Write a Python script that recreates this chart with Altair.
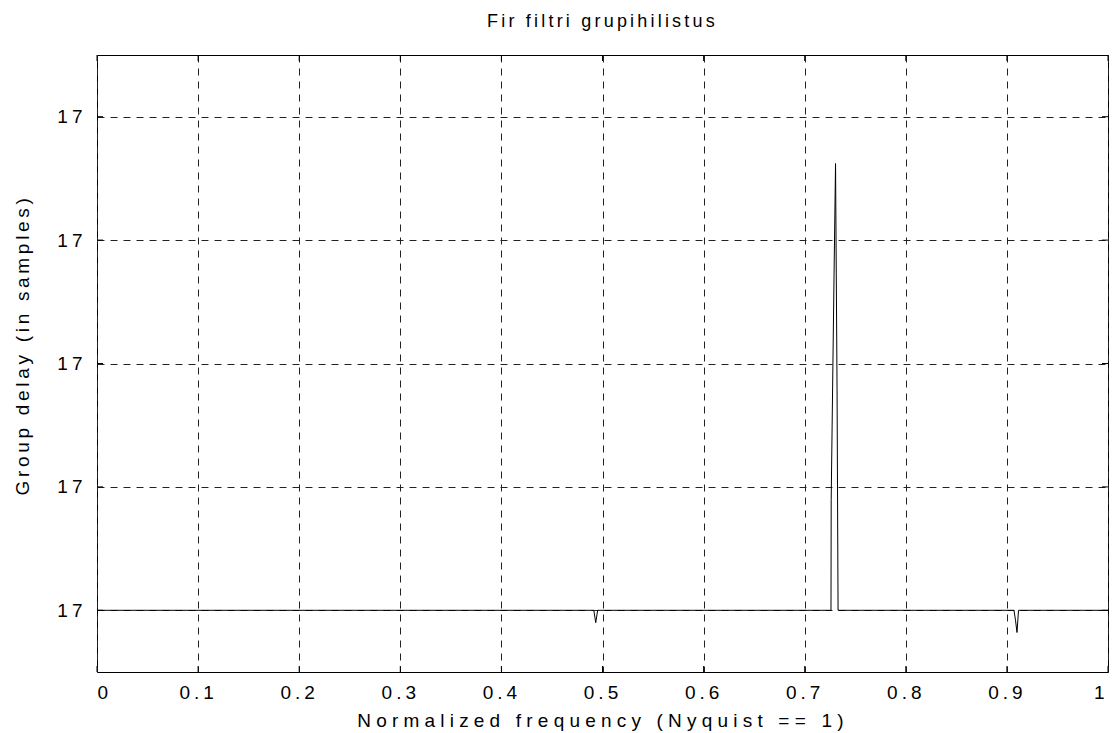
import altair as alt
import pandas as pd

# Normalized frequency (Nyquist == 1) and group-delay deviation from 17 samples
# (deviation expressed in tick units; every tick is labelled "17")
freq = [0.0, 0.4914, 0.4933, 0.4952, 0.7260, 0.7262, 0.7290, 0.7305, 0.7320, 0.7330,
        0.9070, 0.9085, 0.9100, 0.9115, 1.0]
delay_dev = [0.0, 0.0, -0.10, 0.0, 0.0, 0.90, 2.70, 3.62, 1.80, 0.0,
             0.0, -0.08, -0.18, 0.0, 0.0]

x_ticks = [0, 0.1, 0.2, 0.3, 0.4, 0.5, 0.6, 0.7, 0.8, 0.9, 1.0]
y_ticks = [0, 1, 2, 3, 4]
y_tick_label = "17"

df = pd.DataFrame({"f": freq, "d": delay_dev})
xt = pd.DataFrame({"t": x_ticks})
yt = pd.DataFrame({"t": y_ticks})

W, H = 1011, 617
FONT = "Liberation Sans"
FS = 19

xscale = alt.Scale(domain=[0, 1], nice=False, zero=False)
yscale = alt.Scale(domain=[-0.5, 4.5], nice=False, zero=False)

line = alt.Chart(df).mark_line(color="black", strokeWidth=1, interpolate="linear").encode(
    x=alt.X("f:Q", scale=xscale,
            axis=alt.Axis(values=x_ticks, title="Normalized frequency  (Nyquist == 1)",
                          labelExpr="datum.value == 0 ? '0' : datum.value == 1 ? '1' : format(datum.value, '.1f')",
                          grid=True, gridDash=[7, 6], gridColor="#222222", gridWidth=1,
                          ticks=False, domain=False,
                          labelPadding=11, labelBaseline="top",
                          titleX=W / 2, titleY=54, titleAlign="center", titleBaseline="alphabetic",
                          labelFont=FONT, labelFontSize=FS, labelColor="black",
                          titleFont=FONT, titleFontSize=FS, titleFontWeight="normal", titleColor="black")),
    y=alt.Y("d:Q", scale=yscale,
            axis=alt.Axis(values=y_ticks, title="Group delay (in samples)",
                          labelExpr="'" + y_tick_label + "'",
                          grid=True, gridDash=[7, 6], gridColor="#222222", gridWidth=1,
                          ticks=False, domain=False,
                          labelPadding=11, labelBaseline="middle",
                          titleX=-69, titleY=440, titleAngle=270, titleAlign="left",
                          titleBaseline="alphabetic",
                          labelFont=FONT, labelFontSize=FS, labelColor="black",
                          titleFont=FONT, titleFontSize=FS, titleFontWeight="normal", titleColor="black")),
)

# inward tick marks on all four sides
xb = alt.Chart(xt).mark_rule(color="black", strokeWidth=1).encode(
    x=alt.X("t:Q", scale=xscale), y=alt.value(H), y2=alt.value(H - 6))
xtp = alt.Chart(xt).mark_rule(color="black", strokeWidth=1).encode(
    x=alt.X("t:Q", scale=xscale), y=alt.value(0), y2=alt.value(6))
yl = alt.Chart(yt).mark_rule(color="black", strokeWidth=1).encode(
    y=alt.Y("t:Q", scale=yscale), x=alt.value(0), x2=alt.value(6))
yr = alt.Chart(yt).mark_rule(color="black", strokeWidth=1).encode(
    y=alt.Y("t:Q", scale=yscale), x=alt.value(W), x2=alt.value(W - 6))

chart = alt.layer(line, xb, xtp, yl, yr).properties(
    width=W, height=H,
    title=alt.TitleParams("Fir filtri grupihilistus", font=FONT, fontSize=18,
                          fontWeight="normal", color="black", offset=24,
                          anchor="middle"),
    autosize=alt.AutoSizeParams(type="none"),
    padding={"left": 97, "top": 55, "right": 6, "bottom": 61},
    background="white",
).configure_view(stroke="black", strokeWidth=1)

chart.save("out.html", embed_options={"renderer": "svg", "actions": False})

# widen the letter spacing of the rendered texts, as in the reference
css = """
<style>
.role-title-text text { letter-spacing: 3.2px; }
.role-axis-label text { letter-spacing: 4px; }
.role-axis-title text { letter-spacing: 4.3px; }
[aria-label^="X-axis"] .role-axis-title text { letter-spacing: 5.2px; }
[aria-label^="Y-axis"] .role-axis-title text { letter-spacing: 3.7px; }
</style>
"""
with open("out.html", encoding="utf-8") as fh:
    page = fh.read()
page = page.replace("</head>", css + "</head>", 1)
with open("out.html", "w", encoding="utf-8") as fh:
    fh.write(page)
